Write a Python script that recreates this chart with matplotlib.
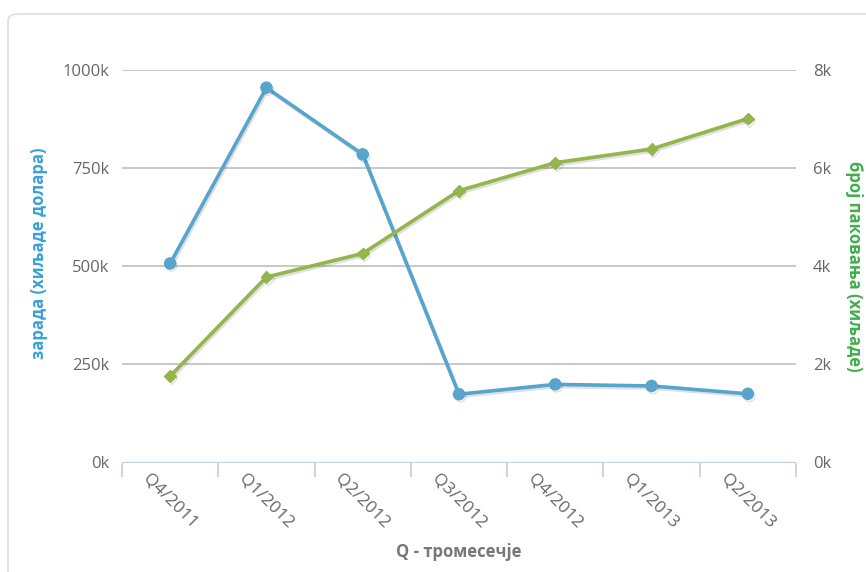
import numpy as np
import matplotlib
matplotlib.use("Agg")
import matplotlib.pyplot as plt
import matplotlib.patheffects as pe
from matplotlib.patches import FancyBboxPatch

plt.rcParams['font.family'] = ['Open Sans', 'DejaVu Sans']

# Data
quarters = ['Q4/2011', 'Q1/2012', 'Q2/2012', 'Q3/2012', 'Q4/2012', 'Q1/2013', 'Q2/2013']
profit = [507000, 955000, 785000, 174000, 199000, 195000, 175000]   # left axis
packages = [1760, 3780, 4260, 5540, 6110, 6390, 7010]               # right axis

left_ticks = [0, 250000, 500000, 750000, 1000000]
left_labels = ['0k', '250k', '500k', '750k', '1000k']
right_ticks = [0, 2000, 4000, 6000, 8000]
right_labels = ['0k', '2k', '4k', '6k', '8k']

blue = '#57a4cd'
green = '#93b54b'
grid_col = '#c8c8c8'
axis_col = '#c0d0e0'
text_col = '#666666'

fig = plt.figure(figsize=(8.66, 5.72), dpi=100)

# rounded frame around the chart (runs off the right/bottom edge as in the reference)
frame = FancyBboxPatch((8/866, 1 - 14/572 - 600/572), 880/866, 600/572,
                       boxstyle='round,pad=0,rounding_size=0.012',
                       transform=fig.transFigure, fill=False,
                       edgecolor='#dddddd', linewidth=1.2)
fig.patches.append(frame)

ax1 = fig.add_axes([122/866, 1 - 462.5/572, 674/866, 392.5/572])
ax2 = ax1.twinx()

x = np.arange(len(quarters))

shadow = [pe.SimpleLineShadow(offset=(1, -1.5), alpha=0.12, shadow_color='black'), pe.Normal()]
ax1.plot(x, profit, color=blue, lw=2.6, marker='o', markersize=8, zorder=3,
         path_effects=shadow)
ax2.plot(x, packages, color=green, lw=2.6, marker='D', markersize=6, zorder=3,
         path_effects=shadow)

ax1.set_xlim(-0.5, len(quarters) - 0.5)
ax1.set_ylim(0, 1000000)
ax2.set_ylim(0, 8000)

# grid lines (drawn from left axis ticks)
for t in left_ticks[1:]:
    ax1.axhline(t, color=grid_col, lw=1.4, zorder=0)
ax1.axhline(0, color=axis_col, lw=1.6, zorder=1)

for ax in (ax1, ax2):
    for s in ax.spines.values():
        s.set_visible(False)

ax1.set_yticks(left_ticks)
ax1.set_yticklabels(left_labels)
ax2.set_yticks(right_ticks)
ax2.set_yticklabels(right_labels)
ax1.tick_params(axis='y', length=0, pad=9, labelsize=12, labelcolor=text_col)
ax2.tick_params(axis='y', length=0, pad=12, labelsize=12, labelcolor=text_col)

ax1.set_xticks(x)
ax1.set_xticklabels(quarters, rotation=-45, ha='center', va='top')
ax1.set_xticks(np.arange(-0.5, len(quarters), 1.0), minor=True)
ax1.tick_params(axis='x', which='major', length=0, pad=6, labelsize=12.5, labelcolor=text_col)
ax1.tick_params(axis='x', which='minor', length=10, width=1.2, color=axis_col)

ax1.set_xlabel('Q - тромесечје', fontsize=12, fontweight='bold', color='#777777', labelpad=8)
ax1.set_ylabel('зарада (хиљаде долара)', fontsize=12, fontweight='bold', color='#3aa0d8')
ax1.yaxis.set_label_coords(-0.110, 0.534)
ax2.set_ylabel('број паковања (хиљаде)', fontsize=12, fontweight='bold', color='#3fae49',
               rotation=270, labelpad=23)

fig.savefig('out.png', dpi=100)
